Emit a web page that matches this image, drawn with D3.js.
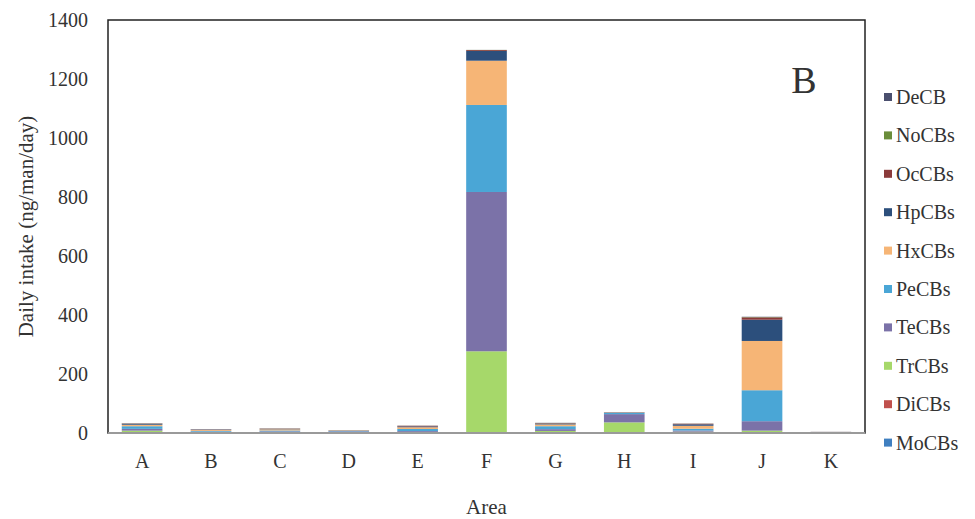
<!DOCTYPE html>
<html>
<head>
<meta charset="utf-8">
<script src="https://cdn.jsdelivr.net/npm/d3@7"></script>
<style>
  body { margin: 0; background: #fff; }
  text { font-family: "Liberation Serif", "DejaVu Serif", serif; fill: #333; }
</style>
</head>
<body>
<svg id="chart" width="975" height="519"></svg>
<script>
// Categories along the x axis
const areas = ["A", "B", "C", "D", "E", "F", "G", "H", "I", "J", "K"];
// Homolog groups, bottom of stack first
const homologs = ["MoCBs", "DiCBs", "TrCBs", "TeCBs", "PeCBs", "HxCBs", "HpCBs", "OcCBs", "NoCBs", "DeCB"];
const homologColors = ["#3f7fc0", "#c0504d", "#a6d86a", "#7b72a8", "#4aa6d6", "#f6b576", "#2c4f7c", "#8b3a3a", "#6a8d3a", "#4a4f6e"];

// Daily intake per area (ng/man/day), one array per homolog group
const moCBs = [2, 0.5, 0.5, 0.5, 1, 1, 2, 0.5, 2, 2, 0.3];
const diCBs = [1, 0.5, 0.5, 0.5, 0.5, 1, 1, 0.5, 0.5, 1, 0.2];
const trCBs = [5, 1.5, 2, 1.5, 2, 275, 4, 35, 2, 5, 0.5];
const teCBs = [6, 2, 2.5, 3, 3, 540, 6, 28, 4, 32, 1];
const peCBs = [9, 2.5, 3, 2, 7, 295, 10, 4, 6, 105, 0.8];
const hxCBs = [5, 3, 4, 1.5, 6, 150, 6, 1, 10, 167, 0.6];
const hpCBs = [3, 1.5, 1.5, 0.5, 3, 33, 3, 1, 5, 72, 0.3];
const ocCBs = [1, 0.8, 1, 0.3, 2, 3, 1.5, 0.5, 2, 8, 0.2];
const noCBs = [0.5, 0.2, 0.3, 0.1, 0.3, 0.5, 0.5, 0.1, 0.3, 1, 0.05];
const deCB = [0.5, 0.2, 0.2, 0.1, 0.2, 0.2, 0.5, 0.1, 0.2, 1, 0.05];
const yTicks = [0, 200, 400, 600, 800, 1000, 1200, 1400];

const seriesValues = [moCBs, diCBs, trCBs, teCBs, peCBs, hxCBs, hpCBs, ocCBs, noCBs, deCB];

// Build rows for d3.stack
const rows = areas.map((area, i) => {
  const row = { area };
  homologs.forEach((h, k) => { row[h] = seriesValues[k][i]; });
  return row;
});

const svg = d3.select("#chart");
const margin = { left: 108, right: 865, top: 20, bottom: 433 };

const x = d3.scaleBand().domain(areas).range([margin.left, margin.right]).paddingInner(0.41).paddingOuter(0.2);
const y = d3.scaleLinear().domain([0, 1400]).range([margin.bottom, margin.top]);
const color = d3.scaleOrdinal().domain(homologs).range(homologColors);

const stacked = d3.stack().keys(homologs)(rows);

// Bars
svg.append("g")
  .selectAll("g")
  .data(stacked)
  .join("g")
  .attr("fill", d => color(d.key))
  .selectAll("rect")
  .data(d => d)
  .join("rect")
  .attr("x", d => x(d.data.area))
  .attr("y", d => y(d[1]))
  .attr("width", x.bandwidth())
  .attr("height", d => Math.max(0, y(d[0]) - y(d[1])));

// Plot frame
svg.append("rect")
  .attr("x", margin.left)
  .attr("y", margin.top)
  .attr("width", margin.right - margin.left)
  .attr("height", margin.bottom - margin.top)
  .attr("fill", "none")
  .attr("stroke", "#222")
  .attr("stroke-width", 1.5);

// Gray category axis line
svg.append("line")
  .attr("x1", margin.left).attr("x2", margin.right)
  .attr("y1", y(0)).attr("y2", y(0))
  .attr("stroke", "#9a9a9a").attr("stroke-width", 2);

// Y axis labels
const yAxis = svg.append("g")
  .attr("transform", `translate(${margin.left - 20},0)`)
  .call(d3.axisLeft(y).tickValues(yTicks).tickFormat(d3.format("d")).tickSize(0).tickPadding(0));
yAxis.select(".domain").remove();
yAxis.selectAll("text")
  .style("font-family", "'Liberation Serif', serif")
  .style("font-size", "20px")
  .attr("fill", "#333");

// X axis labels
const xAxis = svg.append("g")
  .attr("transform", `translate(0,${margin.bottom + 21})`)
  .call(d3.axisBottom(x).tickSize(0).tickPadding(0));
xAxis.select(".domain").remove();
xAxis.selectAll("text")
  .style("font-family", "'Liberation Serif', serif")
  .style("font-size", "20px")
  .attr("fill", "#333");

// Axis titles
svg.append("text")
  .attr("transform", `translate(33,${(margin.top + margin.bottom) / 2}) rotate(-90)`)
  .attr("text-anchor", "middle")
  .style("font-size", "21px")
  .text("Daily intake (ng/man/day)");

svg.append("text")
  .attr("x", (margin.left + margin.right) / 2)
  .attr("y", 514)
  .attr("text-anchor", "middle")
  .style("font-size", "21px")
  .text("Area");

// Panel letter
svg.append("text")
  .attr("x", 804)
  .attr("y", 93)
  .attr("text-anchor", "middle")
  .style("font-size", "38px")
  .attr("fill", "#222")
  .text("B");

// Legend, top of stack first
const legendOrder = homologs.slice().reverse();
const legend = svg.append("g")
  .selectAll("g")
  .data(legendOrder)
  .join("g")
  .attr("transform", (d, i) => `translate(884,${97 + i * 38.4})`);

legend.append("rect")
  .attr("x", 0).attr("y", -4)
  .attr("width", 8).attr("height", 8)
  .attr("fill", d => color(d));

legend.append("text")
  .attr("x", 12)
  .attr("dy", "0.35em")
  .style("font-size", "20px")
  .text(d => d);
</script>
</body>
</html>
